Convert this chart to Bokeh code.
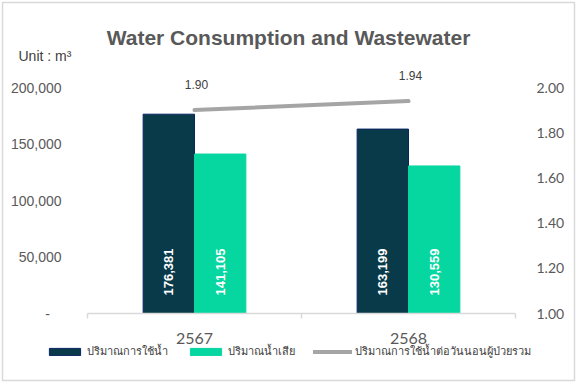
import math
from bokeh.plotting import figure
from bokeh.models import (ColumnDataSource, Range1d, LinearAxis, FixedTicker, NumeralTickFormatter,
                          LabelSet, Label, Legend, LegendItem)
from bokeh.transform import dodge
from bokeh.core.properties import value
from bokeh.embed import file_html
from bokeh.resources import INLINE

# ---- data ----
title_text = "Water Consumption and Wastewater"
unit_text = "Unit : m³"
years = ["2567", "2568"]
water_use = [176381, 163199]
wastewater = [141105, 130559]
use_per_patient_day = [1.90, 1.94]
water_label = "ปริมาณการใช้น้ำ"
waste_label = "ปริมาณน้ำเสีย"
ratio_label = "ปริมาณการใช้น้ำต่อวันนอนผู้ป่วยรวม"
left_ticks = [0, 50000, 100000, 150000, 200000]
right_ticks = [1.0, 1.2, 1.4, 1.6, 1.8, 2.0]

n = len(years)
xs = [i + 0.5 for i in range(n)]
src = ColumnDataSource(dict(
    x=xs, year=years, water=water_use, waste=wastewater, ratio=use_per_patient_day,
    water_txt=[f"{v:,}" for v in water_use],
    waste_txt=[f"{v:,}" for v in wastewater],
    ratio_txt=[f"{v:.2f}" for v in use_per_patient_day],
    zero=[0] * n,
))

DARK = "#083A4A"
GREEN = "#06D6A0"
GRAY = "#A5A5A5"
TXT = "#595959"

# layout: the plot frame is the chart box; axes are pinned inside it
W, H, B = 576, 382, 2
AX_L, AX_R, AX_B = 87, 515, 313        # pixel positions of the axes box
ppu = (AX_R - AX_L) / n
x_start = -(AX_L - B) / ppu
x_end = n + (W - B - AX_R) / ppu
ppv = 56.5 / 50000
y_top = (AX_B - B) / ppv
y_start = -(H - B - AX_B) / ppv
r_lo, r_hi = 1.0, 2.0
r_scale = (r_hi - r_lo) / 200000

p = figure(width=W, height=H, x_range=Range1d(x_start, x_end), y_range=Range1d(y_start, y_top),
           output_backend="svg", toolbar_location=None,
           min_border_left=B, min_border_right=B, min_border_top=B, min_border_bottom=B)
p.outline_line_color = "#D9D9D9"
p.outline_line_width = 1.5
p.xgrid.visible = False
p.ygrid.visible = False
p.background_fill_color = "white"
p.border_fill_color = "white"

p.extra_y_ranges = {"right": Range1d(r_lo + y_start * r_scale, r_lo + y_top * r_scale)}

# title and unit
p.add_layout(Label(x=W / 2 - B, y=H - B - 37, x_units="screen", y_units="screen", text=title_text,
                   text_align="center", text_baseline="middle", text_font="Liberation Sans",
                   text_font_size="21px", text_font_style="bold", text_color=TXT))
p.add_layout(Label(x=16, y=H - B - 55, x_units="screen", y_units="screen", text=unit_text,
                   text_align="left", text_baseline="middle", text_font="Liberation Sans",
                   text_font_size="14px", text_color="#404040"))

# x axis (pinned at y = 0)
xa = p.xaxis[0]
xa.fixed_location = 0
xa.bounds = (0, n)
xa.ticker = FixedTicker(ticks=xs, minor_ticks=list(range(n + 1)))
xa.major_label_overrides = {x: y for x, y in zip(xs, years)}
xa.major_tick_line_color = None
xa.major_tick_out = 0
xa.major_tick_in = 0
xa.minor_tick_out = 5
xa.minor_tick_in = 0
xa.minor_tick_line_color = "#D9D9D9"
xa.minor_tick_line_width = 1.5
xa.axis_line_color = "#D9D9D9"
xa.axis_line_width = 1.5
xa.major_label_standoff = 14
xa.major_label_text_font = "Lato"
xa.major_label_text_font_size = "16px"
xa.major_label_text_color = TXT

# left axis (pinned at x = 0)
ya = p.yaxis[0]
ya.fixed_location = 0
ya.ticker = FixedTicker(ticks=left_ticks)
ya.formatter = NumeralTickFormatter(format="0,0")
ya.major_label_overrides = {0: "-\u00a0\u00a0\u00a0"}
ya.axis_line_color = None
ya.major_tick_line_color = None
ya.minor_tick_line_color = None
ya.major_tick_out = 0
ya.major_tick_in = 0
ya.major_label_standoff = 26
ya.major_label_text_font = "Liberation Sans"
ya.major_label_text_font_size = "14px"
ya.major_label_text_color = TXT

# right axis (pinned at x = n)
ra = LinearAxis(y_range_name="right", ticker=FixedTicker(ticks=right_ticks),
                formatter=NumeralTickFormatter(format="0.00"), fixed_location=n)
ra.axis_line_color = None
ra.major_tick_line_color = None
ra.minor_tick_line_color = None
ra.major_tick_out = 0
ra.major_tick_in = 0
ra.major_label_standoff = 21
ra.major_label_text_font = "Lato"
ra.major_label_text_font_size = "14px"
ra.major_label_text_color = TXT
p.add_layout(ra, "right")

# bars
b1 = p.vbar(x=dodge("x", -0.12, range=p.x_range), top="water", width=0.24, source=src,
            fill_color=DARK, line_color="#0A2463", line_width=1)
b2 = p.vbar(x=dodge("x", 0.12, range=p.x_range), top="waste", width=0.24, source=src,
            fill_color=GREEN, line_color=GREEN, line_width=1)

# line
ln = p.line(x="x", y="ratio", source=src, y_range_name="right", line_color=GRAY,
            line_width=4, line_cap="round")

# bar value labels
for off, col in [(-0.12, "water_txt"), (0.12, "waste_txt")]:
    p.add_layout(LabelSet(x=dodge("x", off, range=p.x_range), y="zero", text=col, source=src,
                          angle=math.pi / 2, text_align="left", text_baseline="middle",
                          y_offset=18, text_color="white", text_font=value("Liberation Sans"),
                          text_font_size="13px", text_font_style="bold"))

# ratio labels
p.add_layout(LabelSet(x="x", y="ratio", text="ratio_txt", source=src, y_range_name="right",
                      text_align="center", text_baseline="middle", x_offset=2, y_offset=26,
                      text_color="#404040", text_font=value("Liberation Sans"),
                      text_font_size="12px"))

legend = Legend(items=[LegendItem(label=water_label, renderers=[b1]),
                       LegendItem(label=waste_label, renderers=[b2]),
                       LegendItem(label=ratio_label, renderers=[ln])],
                orientation="horizontal", location=(43, 20),
                glyph_width=39, glyph_height=9, label_standoff=3, spacing=18,
                padding=0, margin=0, border_line_color=None, background_fill_alpha=0,
                label_text_font="Noto Sans", label_text_font_size="11px",
                label_text_color="#404040")
p.add_layout(legend)

open("out.html", "w").write(file_html(p, INLINE))
